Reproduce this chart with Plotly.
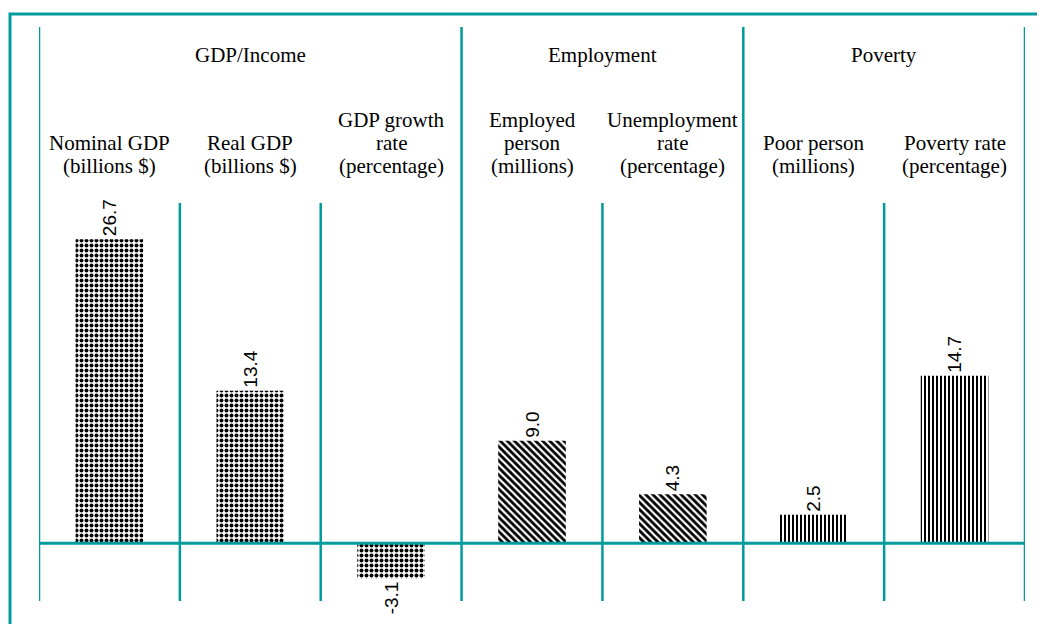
import plotly.graph_objects as go

categories = ["Nominal GDP", "Real GDP", "GDP growth rate", "Employed person",
              "Unemployment rate", "Poor person", "Poverty rate"]
values = [26.7, 13.4, -3.1, 9.0, 4.3, 2.5, 14.7]
value_labels = ["26.7", "13.4", "-3.1", "9.0", "4.3", "2.5", "14.7"]
sub_labels = [["Nominal GDP", "(billions $)"], ["Real GDP", "(billions $)"],
              ["GDP growth", "rate", "(percentage)"], ["Employed", "person", "(millions)"],
              ["Unemployment", "rate", "(percentage)"], ["Poor person", "(millions)"],
              ["Poverty rate", "(percentage)"]]
groups = ["GDP/Income", "Employment", "Poverty"]
group_spans = [(0, 2), (3, 4), (5, 6)]
patterns = [".", ".", ".", "\\", "\\", "|", "|"]

OFF = 8  # page body margin
W, H = 1045 - OFF, 624 - OFF
TEAL = "#009b9b"
SERIF = "Liberation Serif"
SANS = "Liberation Sans"

def py(p):  # reference pixel y -> paper y
    return (H - (p - OFF)) / H

def px(p):
    return (p - OFF) / W

fig = go.Figure()
fig.add_trace(go.Bar(
    x=categories, y=values, width=0.48,
    marker=dict(color="white", line=dict(width=0),
                pattern=dict(shape=patterns, fgcolor="black", bgcolor="white",
                             fgopacity=1,
                             size=[5, 5, 5, 5, 5, 4, 4],
                             solidity=[0.5, 0.5, 0.5, 0.55, 0.55, 0.5, 0.5])),
    text=value_labels, textposition="outside", textangle=-90,
    textfont=dict(family=SANS, size=19, color="black"),
    outsidetextfont=dict(family=SANS, size=19, color="black"),
    constraintext="none", cliponaxis=False, hoverinfo="skip",
))

zero_px = 543.3 - OFF
scale = 11.39
y_top = zero_px / scale
y_bot = -(H - zero_px) / scale

fig.update_layout(
    width=W, height=H, margin=dict(l=0, r=0, t=0, b=0),
    paper_bgcolor="white", plot_bgcolor="white", showlegend=False,
    xaxis=dict(domain=[px(39), px(1025)], visible=False, range=[-0.5, 6.5],
               categoryorder="array", categoryarray=categories),
    yaxis=dict(range=[y_bot, y_top], visible=False),
    font=dict(family=SERIF, size=21, color="black"),
)

shapes = []
# border
shapes.append(dict(type="rect", xref="paper", yref="paper", x0=px(10), x1=1.05,
                   y0=-0.05, y1=py(14), line=dict(color=TEAL, width=3)))
# major dividers
for xv in [-0.5, 2.5, 4.5, 6.5]:
    shapes.append(dict(type="line", xref="x", yref="paper", x0=xv, x1=xv,
                       y0=py(601), y1=py(27), line=dict(color=TEAL, width=2.5)))
# minor dividers
for xv in [0.5, 1.5, 3.5, 5.5]:
    shapes.append(dict(type="line", xref="x", yref="paper", x0=xv, x1=xv,
                       y0=py(601), y1=py(203), line=dict(color=TEAL, width=2.5)))
# zero line
shapes.append(dict(type="line", xref="x", yref="y", x0=-0.5, x1=6.5, y0=0, y1=0,
                   line=dict(color=TEAL, width=3)))
fig.update_layout(shapes=shapes)

ann = []
for g, (a, b) in zip(groups, group_spans):
    ann.append(dict(x=(a + b) / 2, xref="x", y=py(55), yref="paper", text=g,
                    showarrow=False, xanchor="center", yanchor="middle",
                    font=dict(family=SERIF, size=21)))
LINE = 23.5
LAST = 166.5
for i, lines in enumerate(sub_labels):
    n = len(lines)
    for j, t in enumerate(lines):
        yc = LAST - (n - 1 - j) * LINE
        ann.append(dict(x=i, xref="x", y=py(yc), yref="paper", text=t,
                        showarrow=False, xanchor="center", yanchor="middle",
                        font=dict(family=SERIF, size=21)))
fig.update_layout(annotations=ann)

fig.write_html("out.html")
